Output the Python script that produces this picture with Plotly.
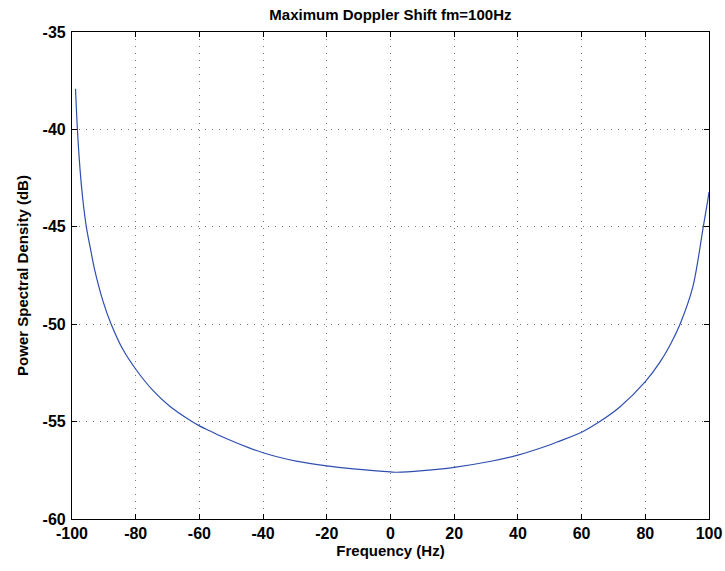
import plotly.graph_objects as go

# Frequency (Hz) and power spectral density (dB)
freq = [-98.9, -98.3, -97.5, -96.6, -95.5, -94.0, -92.9, -90.3, -87.7, -84.0,
        -79.8, -74.6, -69.4, -63.1, -60.0, -56.8, -51.6, -44.2, -40.0, -35.0,
        -29.6, -20.0, -10.8, 0.0, 2.0, 10.2, 20.0, 31.1, 40.0, 49.9,
        53.1, 60.0, 65.7, 72.0, 80.0, 84.6, 88.0, 90.9, 94.9, 98.2,
        99.6, 100.0]
psd = [-37.91, -40.0, -42.0, -43.6, -45.0, -46.3, -47.2, -48.8, -50.0, -51.3,
       -52.35, -53.4, -54.2, -54.92, -55.22, -55.47, -55.87, -56.36, -56.6, -56.83,
       -57.03, -57.27, -57.44, -57.58, -57.6, -57.52, -57.35, -57.05, -56.72, -56.2,
       -56.0, -55.55, -55.0, -54.25, -52.95, -51.95, -51.0, -50.0, -48.1, -45.0,
       -43.65, -43.22]

x_ticks = [-100, -80, -60, -40, -20, 0, 20, 40, 60, 80, 100]
y_ticks = [-60, -55, -50, -45, -40, -35]

title_text = "Maximum Doppler Shift fm=100Hz"
x_title = "Frequency (Hz)"
y_title = "Power Spectral Density (dB)"

font_family = "Liberation Sans, Arial, sans-serif"

fig = go.Figure()
fig.add_trace(go.Scatter(x=freq, y=psd, mode="lines",
                         line=dict(color="#2f4fb0", width=1.2, shape="spline", smoothing=0.9),
                         hoverinfo="skip", showlegend=False))

axis_common = dict(
    showline=True, linecolor="black", linewidth=1.2, mirror="ticks",
    ticks="inside", ticklen=5, tickcolor="black", tickwidth=1,
    showgrid=True, gridcolor="#777777", griddash="1px,6px", gridwidth=1,
    zeroline=False,
    tickfont=dict(family=font_family, size=16, color="black", weight="bold"),
)

fig.update_xaxes(range=[-100, 100], tickvals=x_ticks,
                 ticktext=[str(v) for v in x_ticks],
                 title=dict(text=x_title, standoff=4,
                            font=dict(family=font_family, size=15, color="black", weight="bold")),
                 **axis_common)
fig.update_yaxes(range=[-60, -35], tickvals=y_ticks,
                 ticktext=[str(v) for v in y_ticks],
                 ticklabelstandoff=2,
                 title=dict(text=y_title, standoff=10,
                            font=dict(family=font_family, size=15, color="black", weight="bold")),
                 **axis_common)

fig.update_layout(
    width=725, height=571,
    margin=dict(l=72, r=16, t=32, b=52, autoexpand=False),
    paper_bgcolor="white", plot_bgcolor="white",
    title=dict(text=title_text, x=0.5385, xanchor="center", y=0.975, yanchor="middle",
               font=dict(family=font_family, size=15, color="black", weight="bold")),
)

fig.write_html("out.html")
